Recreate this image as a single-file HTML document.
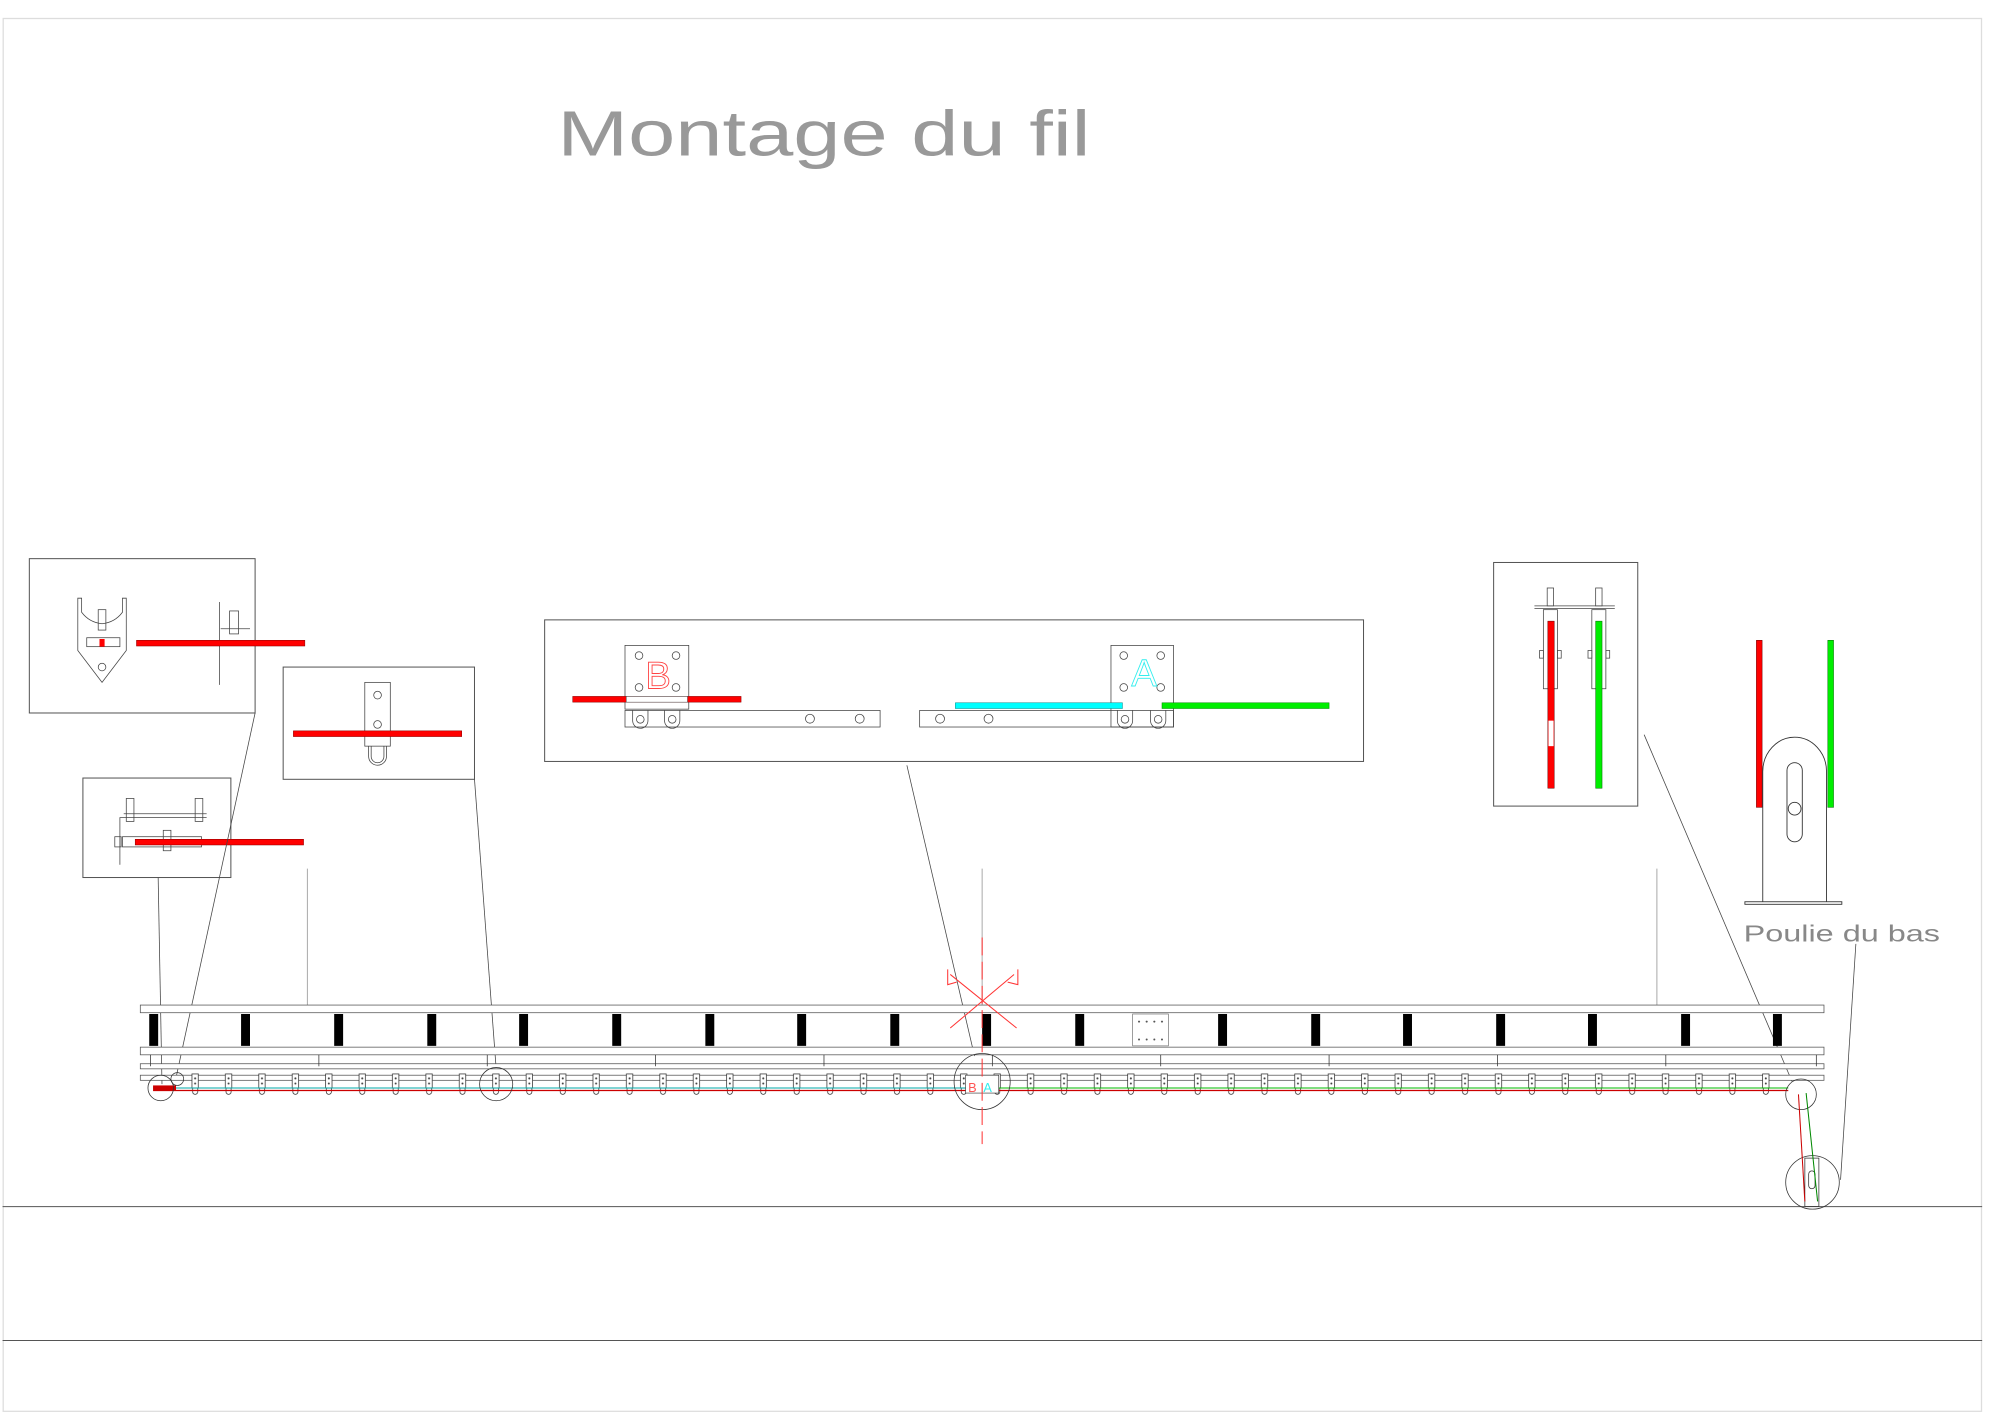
<!DOCTYPE html>
<html><head><meta charset="utf-8"><style>html,body{margin:0;padding:0;background:#fff}svg{display:block}</style></head>
<body>
<svg width="2000" height="1415" viewBox="0 0 1568 1109.4" preserveAspectRatio="none" xmlns="http://www.w3.org/2000/svg" font-family="Liberation Sans, sans-serif">
<defs>
<pattern id="hang" x="150" y="838" width="26.2" height="24" patternUnits="userSpaceOnUse">
<rect x="0.5" y="4" width="5" height="11" fill="#fff" stroke="#333" stroke-width="0.6"/>
<circle cx="3" cy="7.5" r="0.8" fill="#444"/><circle cx="3" cy="11.5" r="0.8" fill="#444"/>
<path d="M1 15 v3 a2 2 0 0 0 4 0 v-3" fill="none" stroke="#333" stroke-width="0.6"/>
</pattern>
</defs>
<rect x="2.5" y="14.5" width="1551" height="1092" fill="none" stroke="#ddd" stroke-width="1"/>
<line x1="2" y1="946" x2="1554" y2="946" stroke="#555" stroke-width="0.8"/>
<line x1="2" y1="1051" x2="1554" y2="1051" stroke="#555" stroke-width="0.8"/>
<text x="437" y="122" font-size="50" fill="#999" textLength="418" lengthAdjust="spacingAndGlyphs">Montage  du  fil</text>

<g fill="none" stroke="#555" stroke-width="0.8">
<rect x="23" y="438" width="177" height="121"/>
<rect x="222" y="523" width="150" height="88"/>
<rect x="65" y="610" width="116" height="78"/>
<rect x="427" y="486" width="642" height="111"/>
<rect x="1171" y="441" width="113" height="191"/>
</g>
<!-- box1 -->
<g fill="none" stroke="#444" stroke-width="0.6">
<path d="M61 469 V510 L80 535 L99 510 V469 L96 469 V480 Q90 488 80 489 Q70 488 64 480 V469 Z"/>
<rect x="77" y="478" width="6" height="16"/><rect x="68" y="500" width="26" height="7"/>
<circle cx="80" cy="523" r="3"/>
<line x1="172" y1="472" x2="172" y2="537"/><rect x="180" y="479" width="7" height="18"/><line x1="173" y1="493" x2="196" y2="493"/>
</g>
<rect x="78" y="501" width="4" height="6" fill="#f00"/>
<rect x="107" y="502" width="132" height="4.5" fill="#f00" stroke="#800" stroke-width="0.4"/>
<!-- box2 -->
<g fill="none" stroke="#444" stroke-width="0.6">
<rect x="286" y="535" width="20" height="50"/><circle cx="296" cy="545" r="3"/><circle cx="296" cy="568" r="3"/>
<path d="M289 585 v8 a7 7 0 0 0 14 0 v-8"/><path d="M291 585 v8 a5 5 0 0 0 10 0 v-8"/>
</g>
<rect x="230" y="573" width="132" height="4.5" fill="#f00" stroke="#800" stroke-width="0.4"/>
<!-- box3 -->
<g fill="none" stroke="#444" stroke-width="0.6">
<rect x="99" y="626" width="6" height="18"/><rect x="153" y="626" width="6" height="18"/>
<path d="M94 678 V641 H162"/><line x1="97" y1="638" x2="162" y2="638"/>
<rect x="96" y="656" width="62" height="8"/><rect x="90" y="656" width="5" height="8"/><rect x="128" y="651" width="6" height="16"/>
</g>
<rect x="106" y="658" width="132" height="4.5" fill="#f00" stroke="#800" stroke-width="0.4"/>
<!-- box4 -->
<g fill="none" stroke="#444" stroke-width="0.6">
<rect x="490" y="506" width="50" height="50"/>
<circle cx="501" cy="514" r="3"/><circle cx="530" cy="514" r="3"/><circle cx="501" cy="539" r="3"/><circle cx="530" cy="539" r="3"/>
<rect x="490" y="557" width="200" height="13"/>
<circle cx="635" cy="563.5" r="3.5"/><circle cx="674" cy="563.5" r="3.5"/>
<path d="M496 557 v8 a6 6 0 0 0 12 0 v-8"/><circle cx="502" cy="564" r="3"/>
<path d="M521 557 v8 a6 6 0 0 0 12 0 v-8"/><circle cx="527" cy="564" r="3"/>
<rect x="721" y="557" width="199" height="13"/>
<circle cx="737" cy="563.5" r="3.5"/><circle cx="775" cy="563.5" r="3.5"/>
<rect x="871" y="506" width="49" height="64"/>
<circle cx="881" cy="514" r="3"/><circle cx="910" cy="514" r="3"/><circle cx="881" cy="539" r="3"/><circle cx="910" cy="539" r="3"/>
<path d="M876 557 v8 a6 6 0 0 0 12 0 v-8"/><circle cx="882" cy="564" r="3"/>
<path d="M902 557 v8 a6 6 0 0 0 12 0 v-8"/><circle cx="908" cy="564" r="3"/>
</g>
<text x="506" y="540" font-size="30" fill="none" stroke="#f44" stroke-width="0.7">B</text>
<text x="887" y="538" font-size="30" fill="none" stroke="#3ee" stroke-width="0.7">A</text>
<rect x="449" y="546" width="132" height="4.5" fill="#f00" stroke="#800" stroke-width="0.4"/>
<rect x="491" y="546" width="48" height="4.5" fill="#fff" stroke="#444" stroke-width="0.4"/>
<rect x="749" y="551" width="131" height="4.5" fill="#0ff" stroke="#088" stroke-width="0.4"/>
<rect x="911" y="551" width="131" height="4.5" fill="#0e0" stroke="#080" stroke-width="0.4"/>
<!-- box5 -->
<g fill="none" stroke="#444" stroke-width="0.6">
<line x1="1203" y1="475" x2="1266" y2="475"/><line x1="1203" y1="477" x2="1266" y2="477"/>
<rect x="1213" y="461" width="5" height="14"/><rect x="1251" y="461" width="5" height="14"/>
<rect x="1210" y="478" width="11" height="62"/><rect x="1248" y="478" width="11" height="62"/>
<rect x="1207" y="510" width="3" height="6"/><rect x="1221" y="510" width="3" height="6"/>
<rect x="1245" y="510" width="3" height="6"/><rect x="1259" y="510" width="3" height="6"/>
</g>
<rect x="1213.5" y="487" width="5" height="131" fill="#f00" stroke="#600" stroke-width="0.4"/>
<rect x="1214" y="565" width="4" height="20" fill="#fff"/>
<rect x="1251" y="487" width="5" height="131" fill="#0e0" stroke="#060" stroke-width="0.4"/>
<!-- poulie -->
<rect x="1377" y="502" width="4.5" height="131" fill="#f00" stroke="#600" stroke-width="0.4"/>
<rect x="1433" y="502" width="4.5" height="131" fill="#0e0" stroke="#060" stroke-width="0.4"/>
<g fill="none" stroke="#333" stroke-width="0.7">
<path d="M1382 707 V605 A25 27 0 0 1 1432 605 V707"/>
<rect x="1368" y="707" width="76" height="2"/>
<rect x="1401" y="598" width="12" height="62" rx="6"/>
<circle cx="1407" cy="634" r="5"/>
</g>
<text x="1367" y="738" font-size="18" fill="#888" textLength="154" lengthAdjust="spacingAndGlyphs">Poulie  du  bas</text>
<!-- leaders -->
<g stroke="#444" stroke-width="0.6" fill="none">
<line x1="124" y1="688" x2="127" y2="850"/>
<line x1="200" y1="559" x2="138" y2="845"/>
<line x1="372" y1="611" x2="389" y2="838"/>
<line x1="711" y1="600" x2="764" y2="828"/>
<line x1="1289" y1="576" x2="1405" y2="848"/>
<line x1="1455" y1="740" x2="1443" y2="925"/>
</g>
<g stroke="#aaa" stroke-width="0.8">
<line x1="241" y1="681" x2="241" y2="788"/><line x1="770" y1="681" x2="770" y2="788"/><line x1="1299" y1="681" x2="1299" y2="788"/>
</g>
<!-- beam -->
<g fill="#fff" stroke="#555" stroke-width="0.6">
<rect x="110" y="788" width="1320" height="6"/>
<rect x="110" y="821" width="1320" height="6"/>
<rect x="110" y="834" width="1320" height="4"/>
<rect x="110" y="843" width="1320" height="4"/>
</g>
<g fill="#000">
<rect x="117" y="795" width="7" height="25"/><rect x="189" y="795" width="7" height="25"/><rect x="262" y="795" width="7" height="25"/>
<rect x="335" y="795" width="7" height="25"/><rect x="407" y="795" width="7" height="25"/><rect x="480" y="795" width="7" height="25"/>
<rect x="553" y="795" width="7" height="25"/><rect x="625" y="795" width="7" height="25"/><rect x="698" y="795" width="7" height="25"/>
<rect x="770" y="795" width="7" height="25"/><rect x="843" y="795" width="7" height="25"/><rect x="955" y="795" width="7" height="25"/>
<rect x="1028" y="795" width="7" height="25"/><rect x="1100" y="795" width="7" height="25"/><rect x="1173" y="795" width="7" height="25"/>
<rect x="1245" y="795" width="7" height="25"/><rect x="1318" y="795" width="7" height="25"/><rect x="1390" y="795" width="7" height="25"/>
</g>
<rect x="888" y="795" width="28" height="25" fill="#fff" stroke="#666" stroke-width="0.5"/>
<g fill="#555"><circle cx="893" cy="801" r="0.8"/><circle cx="899" cy="801" r="0.8"/><circle cx="905" cy="801" r="0.8"/><circle cx="911" cy="801" r="0.8"/>
<circle cx="893" cy="815" r="0.8"/><circle cx="899" cy="815" r="0.8"/><circle cx="905" cy="815" r="0.8"/><circle cx="911" cy="815" r="0.8"/></g>
<g stroke="#333" stroke-width="0.6">
<line x1="118" y1="827" x2="118" y2="836"/><line x1="250" y1="827" x2="250" y2="836"/><line x1="382" y1="827" x2="382" y2="836"/>
<line x1="514" y1="827" x2="514" y2="836"/><line x1="646" y1="827" x2="646" y2="836"/><line x1="778" y1="827" x2="778" y2="836"/>
<line x1="910" y1="827" x2="910" y2="836"/><line x1="1042" y1="827" x2="1042" y2="836"/><line x1="1174" y1="827" x2="1174" y2="836"/>
<line x1="1306" y1="827" x2="1306" y2="836"/><line x1="1424" y1="827" x2="1424" y2="836"/>
</g>
<rect x="148" y="838" width="1250" height="24" fill="url(#hang)"/>
<line x1="120" y1="853" x2="760" y2="853" stroke="#0aa" stroke-width="0.8"/>
<line x1="120" y1="855" x2="760" y2="855" stroke="#c00" stroke-width="1"/>
<line x1="780" y1="853" x2="1402" y2="853" stroke="#0b0" stroke-width="0.8"/>
<line x1="780" y1="855" x2="1402" y2="855" stroke="#c00" stroke-width="1"/>
<rect x="120" y="851" width="18" height="4" fill="#c00"/>
<!-- circles -->
<g fill="none" stroke="#333" stroke-width="0.6">
<circle cx="126" cy="853" r="10"/><circle cx="139" cy="846" r="5"/>
<circle cx="389" cy="850" r="13"/><circle cx="770" cy="848" r="22"/>
<circle cx="1412" cy="858" r="12"/><circle cx="1421" cy="927" r="21"/>
<rect x="1415" y="908" width="11" height="38"/><rect x="1418" y="918" width="5" height="14" rx="2.5"/>
</g>
<line x1="1410" y1="858" x2="1415" y2="942" stroke="#c00" stroke-width="0.8"/>
<line x1="1416" y1="857" x2="1425" y2="942" stroke="#080" stroke-width="0.8"/>
<rect x="757" y="843" width="26" height="14" fill="#fff" stroke="#333" stroke-width="0.5"/>
<text x="759" y="856" font-size="10" fill="#f55">B</text><text x="771" y="856" font-size="10" fill="#3ee">A</text>
<!-- crosshair -->
<g stroke="#f33" stroke-width="0.8" fill="none">
<line x1="770" y1="735" x2="770" y2="897" stroke-dasharray="14,5"/>
<line x1="745" y1="764" x2="797" y2="806"/><line x1="795" y1="764" x2="745" y2="806"/>
<path d="M743 760 L743 772 L750 770"/><path d="M798 760 L798 772 L790 770"/>
</g>
</svg>
</body></html>
